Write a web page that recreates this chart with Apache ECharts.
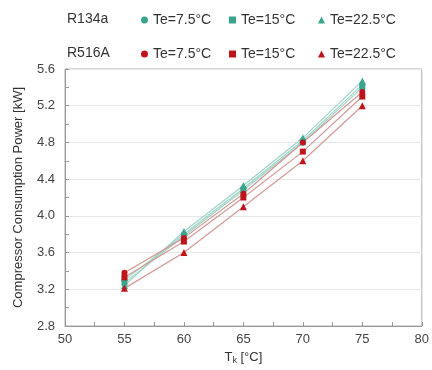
<!DOCTYPE html>
<html>
<head>
<meta charset="utf-8">
<script src="https://cdn.jsdelivr.net/npm/echarts@6/dist/echarts.min.js"></script>
<style>
  html, body { margin: 0; padding: 0; background: #fff; }
  #chart { width: 432px; height: 370px; }
</style>
</head>
<body>
<div id="chart"></div>
<script>
// condensing temperature Tk [°C]
const tk = [55, 60, 65, 70, 75];

// compressor power [kW]
const r134a_75 = [3.30, 3.80, 4.30, 4.82, 5.43];
const r134a_15 = [3.27, 3.78, 4.28, 4.80, 5.40];
const r134a_225 = [3.24, 3.83, 4.33, 4.85, 5.47];
const r516a_75 = [3.38, 3.76, 4.24, 4.80, 5.35];
const r516a_15 = [3.33, 3.72, 4.20, 4.70, 5.30];
const r516a_225 = [3.21, 3.60, 4.10, 4.60, 5.20];

const teal = "#3aa58c";
const red = "#c0141c";
const font = "Liberation Sans, Arial, sans-serif";

function pts(vals) {
  return tk.map((t, i) => [t, vals[i]]);
}

function mkSeries(name, vals, color, lineColor, symbol) {
  return {
    name: name,
    type: "line",
    data: pts(vals),
    symbol: symbol,
    symbolSize: symbol === "triangle" ? 7 : 6,
    itemStyle: { color: color },
    lineStyle: { color: lineColor, width: 1.2 },
    emphasis: { disabled: true },
  };
}

// one legend per item so each sits where it does in the picture
function mkLegend(name, left, top, icon) {
  return {
    data: [{ name: name, icon: icon }],
    left: left,
    top: top,
    itemWidth: 7,
    itemHeight: 7,
    itemGap: 0,
    selectedMode: false,
    formatter: function (n) { return n.split(" ")[1]; },
    textStyle: { fontFamily: font, fontSize: 14, color: "#333" },
  };
}

const chart = echarts.init(document.getElementById("chart"));
chart.setOption({
  animation: false,
  title: [
    { text: "R134a", left: 62, top: 7, textStyle: { fontFamily: font, fontSize: 14, fontWeight: "normal", color: "#333" } },
    { text: "R516A", left: 62, top: 41, textStyle: { fontFamily: font, fontSize: 14, fontWeight: "normal", color: "#333" } },
  ],
  legend: [
    mkLegend("R134a Te=7.5°C", 136, 8, "circle"),
    mkLegend("R134a Te=15°C", 224, 8, "rect"),
    mkLegend("R134a Te=22.5°C", 313, 8, "triangle"),
    mkLegend("R516A Te=7.5°C", 136, 42, "circle"),
    mkLegend("R516A Te=15°C", 224, 42, "rect"),
    mkLegend("R516A Te=22.5°C", 313, 42, "triangle"),
  ],
  grid: {
    left: 65, right: 9, top: 69, bottom: 44,
    show: true, borderColor: "#b0b0b0", borderWidth: 1,
  },
  xAxis: {
    type: "value",
    min: 50, max: 80, interval: 5,
    name: "{a|T}{b|k}{a| [°C]}",
    nameLocation: "middle",
    nameGap: 22,
    nameTextStyle: {
      rich: {
        a: { fontFamily: font, fontSize: 13, color: "#333" },
        b: { fontFamily: font, fontSize: 9, color: "#333", verticalAlign: "bottom", padding: [6, 0, 0, 0] },
      },
    },
    axisLine: { lineStyle: { color: "#999" } },
    axisTick: { inside: true, length: 4, lineStyle: { color: "#999" } },
    minorTick: { show: true, splitNumber: 2, length: 4, lineStyle: { color: "#999" } },
    splitLine: { show: false },
    axisLabel: { fontFamily: font, fontSize: 13, color: "#444", margin: 7 },
  },
  yAxis: {
    type: "value",
    min: 2.8, max: 5.6, interval: 0.4,
    name: "Compressor Consumption Power [kW]",
    nameLocation: "middle",
    nameGap: 40,
    nameTextStyle: { fontFamily: font, fontSize: 13, color: "#333" },
    axisLine: { show: true, lineStyle: { color: "#999" } },
    axisTick: { show: true, inside: true, length: 4, lineStyle: { color: "#999" } },
    minorTick: { show: true, splitNumber: 2, length: 4, lineStyle: { color: "#999" } },
    splitLine: { show: true, lineStyle: { color: "#e6e6e6" } },
    axisLabel: {
      fontFamily: font, fontSize: 13, color: "#444", margin: 10,
      formatter: function (v) { return v.toFixed(1); },
    },
  },
  series: [
    mkSeries("R134a Te=7.5°C", r134a_75, teal, "#9ed3c6", "circle"),
    mkSeries("R134a Te=15°C", r134a_15, teal, "#9ed3c6", "rect"),
    mkSeries("R134a Te=22.5°C", r134a_225, teal, "#9ed3c6", "triangle"),
    mkSeries("R516A Te=7.5°C", r516a_75, red, "#cf9a96", "circle"),
    mkSeries("R516A Te=15°C", r516a_15, red, "#cf9a96", "rect"),
    mkSeries("R516A Te=22.5°C", r516a_225, red, "#cf9a96", "triangle"),
  ],
});
</script>
</body>
</html>
